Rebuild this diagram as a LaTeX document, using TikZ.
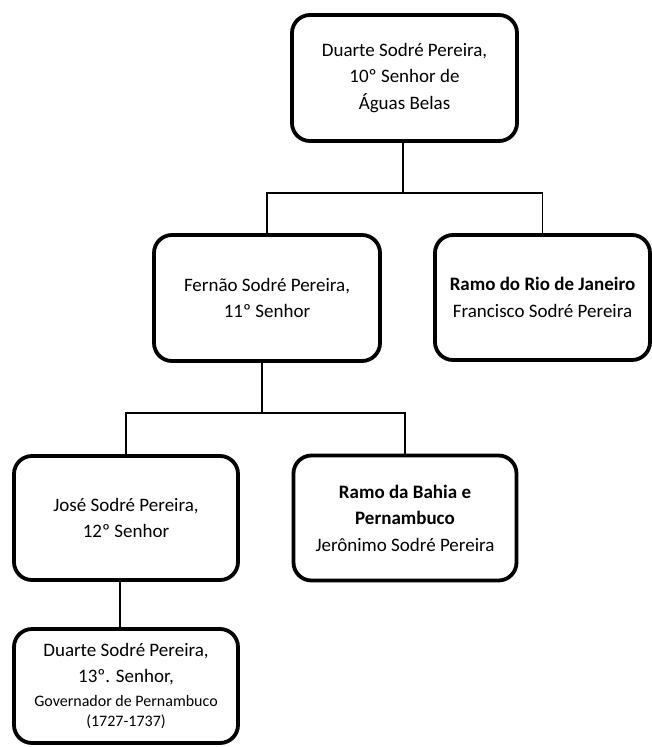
\documentclass[tikz,border=0pt]{standalone}
\usepackage{fontspec}
\setmainfont{Carlito}
\begin{document}
\begin{tikzpicture}[x=1pt,y=-1pt,
  person/.style={draw, line width=3.8pt, rounded corners=18pt, align=center,
    inner sep=0pt, font=\fontsize{19}{26.5}\selectfont},
  link/.style={line width=1.3pt}]
\useasboundingbox (0,0) rectangle (652,747);

% family members
\node[person, minimum width=225pt, minimum height=126pt] (duarte10) at (404.5,78)
  {Duarte Sodré Pereira,\\10º Senhor de\\Águas Belas};
\node[person, minimum width=226pt, minimum height=126pt] (fernao) at (267,298)
  {Fernão Sodré Pereira,\\11º Senhor};
\node[person, minimum width=215pt, minimum height=125pt] (rio) at (542.5,297.5)
  {\textbf{Ramo do Rio de Janeiro}\\Francisco Sodré Pereira};
\node[person, minimum width=224pt, minimum height=124pt] (jose) at (126,518)
  {José Sodré Pereira,\\12º Senhor};
\node[person, minimum width=223pt, minimum height=125pt] (bahia) at (405,518)
  {\textbf{Ramo da Bahia e}\\\textbf{Pernambuco}\\Jerônimo Sodré Pereira};
\node[person, minimum width=224pt, minimum height=114pt] (duarte13) at (126,686)
  {Duarte Sodré Pereira,\\13º. Senhor,\\[-2.5pt]{\fontsize{16}{20}\selectfont Governador de Pernambuco}\\[-6.5pt]{\fontsize{16}{20}\selectfont (1727-1737)}};

% junctions of the tree
\coordinate (j1) at (403,193);
\coordinate (j2) at (262,413);

\draw[link] (duarte10.south -| j1) -- (j1);
\draw[link] (fernao.north) |- (j1) -| (rio.north);
\draw[link] (fernao.south -| j2) -- (j2);
\draw[link] (jose.north) |- (j2) -| (bahia.north);
\draw[link] ([xshift=-6pt]jose.south) -- ([xshift=-6pt]duarte13.north);
\end{tikzpicture}
\end{document}
